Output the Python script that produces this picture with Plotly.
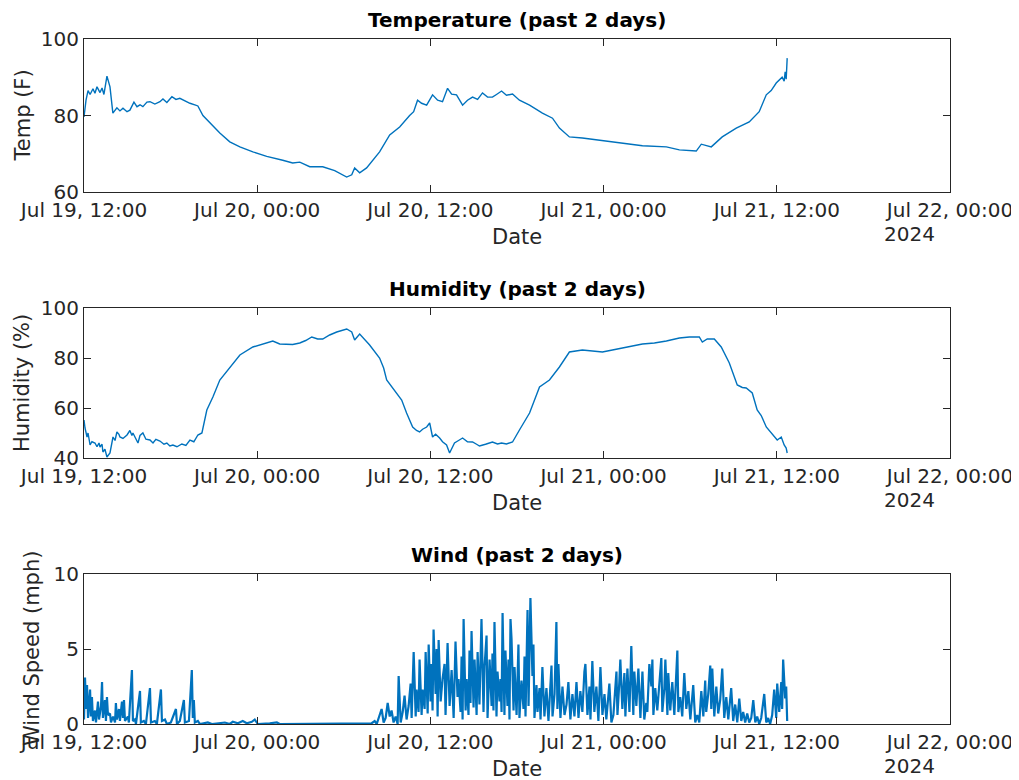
import pandas as pd
import plotly.graph_objects as go

# ---------------- data ----------------
start_time = "2024-07-19 12:00"
axis_end = "2024-07-22 00:00"

tick_times = ["2024-07-19 12:00", "2024-07-20 00:00", "2024-07-20 12:00",
              "2024-07-21 00:00", "2024-07-21 12:00", "2024-07-22 00:00"]
tick_labels = ["Jul 19, 12:00", "Jul 20, 00:00", "Jul 20, 12:00",
               "Jul 21, 00:00", "Jul 21, 12:00", "Jul 22, 00:00"]
year_label = "2024"

# temperature: hours after start, degrees F
temp_hours = [0.00, 0.14, 0.28, 0.42, 0.62, 0.76, 0.90, 1.11, 1.25, 1.38, 1.59, 1.80, 2.00,
              2.28, 2.49, 2.70, 2.98, 3.18, 3.46, 3.67, 3.88, 4.08, 4.36, 4.57, 4.91, 5.26,
              5.47, 5.74, 6.09, 6.37, 6.64, 6.99, 7.34, 7.68, 7.89, 8.24, 8.72, 9.41, 10.1,
              10.8, 11.7, 12.66, 13.77, 14.46, 14.95, 15.64, 16.54, 17.37, 18.2, 18.55, 18.75,
              19.1, 19.58, 20.48, 21.18, 21.87, 22.56, 22.84, 23.11, 23.39, 23.74, 24.15, 24.5,
              24.84, 25.19, 25.47, 25.81, 26.23, 26.57, 26.92, 27.27, 27.61, 27.96, 28.3, 28.58,
              28.93, 29.27, 29.69, 30.17, 30.87, 31.76, 32.46, 32.94, 33.63, 34.53, 35.92, 37.3,
              38.69, 40.35, 41.25, 42.42, 42.77, 43.46, 44.22, 45.19, 46.09, 46.78, 47.27, 47.61,
              47.96, 48.37, 48.51, 48.58, 48.65, 48.72]
temp_values = [79.6, 84.0, 86.5, 85.5, 87.0, 85.8, 87.5, 86.0, 87.2, 85.5, 90.3, 87.5, 80.6,
               82.0, 81.2, 81.9, 81.0, 81.4, 83.5, 82.3, 82.8, 82.3, 83.5, 83.6, 83.0, 83.6,
               84.3, 83.4, 84.9, 84.2, 84.5, 83.8, 83.2, 82.8, 82.5, 80.0, 78.0, 75.4, 73.1,
               71.8, 70.5, 69.3, 68.3, 67.6, 67.8, 66.6, 66.6, 65.6, 63.9, 64.5, 66.3,
               65.0, 66.3, 70.5, 74.9, 77.0, 80.0, 81.0, 84.0, 83.2, 82.7, 85.4, 84.0,
               83.6, 87.1, 85.6, 85.4, 82.7, 84.0, 84.8, 84.2, 85.9, 84.8, 84.8, 85.5,
               86.4, 85.3, 85.6, 84.0, 82.7, 80.6, 79.3, 76.7, 74.4, 74.1, 73.4, 72.8,
               72.1, 71.8, 71.0, 70.7, 72.5, 71.8, 74.4, 76.7, 78.3, 81.0, 85.4, 86.5,
               88.5, 90.0, 89.0, 91.4, 89.5, 95.0]

# humidity: hours after start, percent
hum_hours = [0.00, 0.07, 0.21, 0.28, 0.42, 0.55, 0.76, 0.90, 1.04, 1.11, 1.25, 1.31, 1.45, 1.59,
             1.80, 2.01, 2.15, 2.28, 2.42, 2.49, 2.70, 2.98, 3.18, 3.32, 3.39, 3.60, 3.74, 3.88,
             4.08, 4.29, 4.57, 4.78, 4.98, 5.26, 5.54, 5.74, 5.95, 6.16, 6.44, 6.78, 7.06, 7.34,
             7.61, 7.89, 8.17, 8.51, 8.93, 9.41, 10.1, 10.8, 11.7, 12.53, 13.08, 13.56, 14.05,
             14.46, 14.95, 15.36, 15.78, 16.19, 16.54, 17.02, 17.51, 18.2, 18.55, 18.75, 19.1,
             19.79, 20.48, 20.76, 20.97, 21.52, 22.01, 22.35, 22.77, 23.04, 23.25, 23.46, 23.74,
             23.95, 24.15, 24.36, 24.64, 24.84, 25.12, 25.33, 25.67, 25.95, 26.23, 26.57, 26.92,
             27.2, 27.4, 27.82, 28.3, 28.65, 28.93, 29.27, 29.69, 30.17, 30.87, 31.56, 32.25,
             32.94, 33.63, 34.53, 35.22, 35.92, 36.61, 37.3, 37.99, 38.69, 39.52, 40.35, 41.25,
             41.94, 42.63, 42.84, 43.18, 43.67, 44.15, 44.71, 45.26, 45.61, 45.88, 46.3, 46.64,
             46.92, 47.27, 47.47, 47.68, 48.03, 48.31, 48.51, 48.65, 48.72]
hum_values = [55.2, 52.0, 48.4, 50.0, 45.2, 46.5, 46.0, 44.5, 46.0, 44.4, 45.5, 42.4, 43.5, 40.4,
              42.0, 48.4, 47.0, 50.4, 49.5, 48.4, 47.8, 49.2, 51.0, 49.0, 50.0, 47.5, 46.0, 49.0,
              50.0, 47.5, 47.2, 46.0, 47.5, 46.8, 45.5, 46.0, 44.8, 45.2, 44.5, 45.6, 45.0, 47.2,
              46.5, 49.2, 50.0, 59.2, 64.4, 71.2, 76.4, 81.2, 84.4, 86.0, 86.8, 85.6, 85.6,
              85.4, 86.0, 87.0, 88.4, 87.6, 87.6, 89.2, 90.4, 91.6, 90.4, 87.2, 89.6,
              85.2, 80.0, 76.0, 71.2, 67.2, 63.2, 58.0, 52.4, 51.0, 50.4, 51.5, 52.4,
              54.0, 48.4, 49.5, 48.0, 46.5, 45.2, 42.0, 46.0, 47.0, 48.0, 46.5, 46.4,
              45.5, 44.8, 45.5, 46.4, 45.6, 46.0, 45.6, 46.4, 51.2, 58.0, 68.4, 71.2,
              76.4, 82.4, 83.2, 82.8, 82.4, 83.2, 84.0, 84.8, 85.6, 86.0, 86.8, 88.0,
              88.4, 88.4, 86.4, 87.6, 87.6, 84.4, 78.0, 69.2, 68.2, 68.0, 66.0, 59.2,
              57.0, 52.4, 51.0, 49.2, 47.2, 48.4, 45.2, 44.0, 42.0]

# wind: hours after start, mph
wind_hours = [0.00, 0.07, 0.14, 0.21, 0.28, 0.42, 0.48, 0.55, 0.62, 0.76, 0.83, 0.97, 1.04, 1.18,
              1.25, 1.31, 1.45, 1.52, 1.59, 1.66, 1.80, 1.87, 2.01, 2.15, 2.21, 2.28, 2.42, 2.49,
              2.63, 2.70, 2.77, 2.84, 3.04, 3.11, 3.32, 3.39, 3.53, 3.60, 3.88, 3.94, 4.15, 4.29,
              4.57, 4.64, 4.91, 5.05, 5.33, 5.40, 5.61, 5.74, 6.02, 6.37, 6.44, 6.64, 6.92, 6.99,
              7.27, 7.47, 7.54, 7.61, 7.68, 7.89, 8.03,
              8.58, 8.86, 9.76, 10.1, 10.31, 10.66, 11.0, 11.28, 11.63, 11.83, 12.04, 12.87, 13.36,
              13.56, 16.33, 19.1, 19.93, 20.14, 20.28,
              20.62, 20.76, 20.9, 21.04, 21.18, 21.31, 21.45, 21.59, 21.73, 21.8, 21.94, 22.08,
              22.21, 22.35, 22.49, 22.63, 22.7, 22.77, 22.84, 22.98, 23.04, 23.18, 23.25, 23.39,
              23.46, 23.6, 23.67, 23.81, 23.88, 24.01, 24.08, 24.15, 24.22, 24.36, 24.43, 24.5,
              24.57, 24.71, 24.84, 24.98, 25.05, 25.19, 25.33, 25.47, 25.61, 25.74, 25.88, 25.95,
              26.09, 26.16, 26.23, 26.3, 26.44, 26.51, 26.64, 26.71, 26.78, 26.85, 26.99, 27.06,
              27.2, 27.27, 27.4, 27.54, 27.68, 27.75, 27.89, 27.96, 28.1, 28.24, 28.3, 28.37,
              28.44, 28.58, 28.65, 28.79, 28.86, 28.93, 29.0, 29.13, 29.2, 29.34, 29.41, 29.48,
              29.55, 29.62, 29.76, 29.83, 29.97, 30.1, 30.17, 30.31, 30.45, 30.52, 30.59, 30.73,
              30.8, 30.93, 31.07, 31.14, 31.21, 31.35, 31.42, 31.56, 31.63, 31.76, 31.9, 32.04,
              32.18, 32.39, 32.46, 32.6, 32.73, 32.8, 32.87, 33.01, 33.15, 33.29, 33.43, 33.56,
              33.7, 33.84, 33.98, 34.12, 34.26, 34.39, 34.53, 34.67, 34.74, 34.88, 35.02, 35.09,
              35.22, 35.36, 35.5, 35.64, 35.78, 35.92, 36.06, 36.19, 36.4, 36.54, 36.68, 36.89,
              36.96, 37.09, 37.16, 37.3, 37.44, 37.51, 37.65, 37.79, 37.92, 38.06, 38.13, 38.27,
              38.41, 38.55, 38.69, 38.82, 38.96, 39.03, 39.17, 39.31, 39.38, 39.45, 39.58, 39.72,
              39.86, 40.0, 40.07, 40.21, 40.28, 40.42, 40.48, 40.62, 40.76, 40.9, 41.11, 41.18,
              41.31, 41.45, 41.59, 41.73, 41.87, 42.01, 42.21, 42.35, 42.49, 42.63, 42.77, 42.91,
              43.04, 43.11, 43.25, 43.39, 43.46, 43.53, 43.67, 43.81, 43.94, 44.08, 44.22, 44.36,
              44.5, 44.64, 44.84, 44.98, 45.12, 45.26, 45.4, 45.54, 45.67, 45.81, 45.95, 46.09,
              46.23, 46.37, 46.51, 46.64, 46.78, 46.92, 47.13, 47.27, 47.4, 47.54, 47.68, 47.82,
              47.96, 48.03, 48.17, 48.31, 48.37, 48.44, 48.58, 48.65, 48.72]
wind_values = [0.3, 3.1, 1.0, 2.6, 0.4, 2.3, 0.5, 1.8, 0.2, 0.9, 0.1, 1.5, 0.3, 1.2,
               2.8, 0.4, 1.6, 0.2, 1.8, 0.6, 0.7, 0.1, 0.5, 0.1, 1.4, 0.3, 1.0, 0.2,
               1.5, 0.4, 1.6, 0.2, 0.5, 0.1, 3.6, 0.2, 0.3, 0.0, 2.2, 0.1, 0.2, 0.0,
               2.4, 0.1, 0.2, 0.0, 2.3, 0.2, 0.3, 0.0, 0.1, 1.0, 0.0, 0.2, 1.6, 0.1,
               0.2, 3.6, 0.4, 1.6, 0.1, 0.2, 0.0,
               0.1, 0.0, 0.1, 0.0, 0.15, 0.05, 0.2, 0.05, 0.15, 0.3, 0.0, 0.05, 0.1,
               0.0, 0.0, 0.0, 0.05, 0.2, 0.0,
               1.0, 0.1, 0.4, 1.4, 0.5, 0.9, 0.1, 0.5, 0.0, 3.2, 0.1, 0.8,
               1.9, 0.3, 1.2, 2.7, 0.4, 3.2, 4.8, 0.5, 2.3, 0.8, 4.3, 0.6,
               2.3, 1.0, 4.8, 0.7, 5.3, 1.5, 4.0, 0.9, 6.3, 2.0, 5.0, 0.5,
               5.6, 1.5, 3.0, 4.0, 0.6, 5.4, 1.2, 3.6, 0.4, 5.5, 1.8, 3.0,
               0.8, 4.5, 0.3, 7.0, 0.9, 3.0, 0.6, 4.9, 1.4, 6.2, 1.1, 4.3,
               0.6, 4.8, 1.3, 7.0, 0.8, 3.8, 5.9, 0.4, 4.3, 1.2, 4.7, 0.9,
               6.8, 0.5, 3.5, 1.5, 3.0, 0.8, 7.4, 0.6, 4.9, 1.2, 4.3, 0.3,
               7.0, 5.7, 0.9, 3.8, 0.6, 5.3, 0.4, 2.9, 1.0, 4.5, 0.5, 7.6,
               1.2, 8.4, 3.2, 5.3, 0.4, 2.6, 0.8, 2.4, 0.3, 3.8, 0.5, 2.4,
               0.2, 3.9, 0.5, 2.0, 6.8, 1.0, 4.0, 0.4, 2.5, 0.6, 1.3, 2.8,
               0.3, 2.0, 0.5, 2.8, 0.4, 2.2, 0.8, 3.5, 4.0, 0.6, 2.5, 0.3,
               4.2, 0.8, 2.5, 0.2, 3.8, 0.6, 2.0, 0.3, 2.7, 0.1, 0.6, 3.5,
               0.6, 2.8, 4.3, 1.0, 3.4, 0.5, 3.7, 0.8, 5.2, 0.6, 3.5, 1.2,
               3.7, 0.4, 3.5, 0.3, 1.4, 0.8, 4.0, 2.5, 4.3, 0.6, 2.4, 0.9,
               3.0, 4.4, 0.8, 2.4, 4.3, 0.6, 3.4, 0.9, 2.8, 0.6, 4.9, 0.8,
               1.8, 0.5, 3.4, 1.0, 2.2, 0.3, 2.6, 0.1, 0.6, 0.1, 2.2, 0.5,
               2.9, 0.8, 2.0, 3.9, 1.0, 3.7, 0.5, 2.5, 0.7, 1.6, 3.7, 0.4,
               1.8, 0.3, 2.4, 0.2, 1.3, 0.1, 1.7, 0.2, 0.8, 0.1, 0.7, 0.1,
               0.4, 1.6, 0.1, 0.5, 0.0, 0.4, 2.0, 0.1, 0.4, 0.0, 0.6, 2.3,
               0.4, 2.7, 0.8, 2.8, 1.0, 4.3, 1.7, 2.5, 0.2]

panel_titles = ["Temperature (past 2 days)", "Humidity (past 2 days)", "Wind (past 2 days)"]
y_titles = ["Temp (F)", "Humidity (%)", "Wind Speed (mph)"]
x_title = "Date"
y_ranges = [[60, 100], [40, 100], [0, 10]]
y_ticks = [[60, 80, 100], [40, 60, 80, 100], [0, 5, 10]]

# ---------------- figure ----------------
PAGE_OFF = 8                      # default body margin of the html page
W, H = 1019 - PAGE_OFF, 780 - PAGE_OFF
FONT = "DejaVu Sans"
TXT = "#262626"
LINE = "#0072BD"

t0 = pd.Timestamp(start_time)
def to_time(hours):
    return t0 + pd.to_timedelta(pd.Series(hours), unit="h")

series = [(temp_hours, temp_values), (hum_hours, hum_values), (wind_hours, wind_values)]
line_widths = [1.4, 1.4, 2.2]

# panel boxes in window pixels: (top, bottom) and x extent
left_px, right_px = 84, 950
panels_px = [(39, 192), (308, 458), (574, 724)]

fig = go.Figure()
layout = dict(
    width=W, height=H,
    margin=dict(l=0, r=0, t=0, b=0, autoexpand=False),
    paper_bgcolor="white", plot_bgcolor="white",
    showlegend=False,
    font=dict(family=FONT, color=TXT, size=20),
)
annotations = []

def px_x(p):
    return (p - PAGE_OFF) / W

def px_y(p):
    return 1 - (p - PAGE_OFF) / H

for i, ((hrs, vals), (top, bot)) in enumerate(zip(series, panels_px)):
    n = "" if i == 0 else str(i + 1)
    fig.add_trace(go.Scatter(
        x=to_time(hrs), y=vals, mode="lines",
        line=dict(color=LINE, width=line_widths[i]),
        xaxis="x" + n, yaxis="y" + n, hoverinfo="skip",
    ))
    layout["xaxis" + n] = dict(
        domain=[px_x(left_px), px_x(right_px)],
        anchor="y" + n, automargin=False,
        range=[start_time, axis_end],
        tickvals=tick_times, ticktext=tick_labels,
        ticks="inside", ticklen=7, tickwidth=1, tickcolor=TXT,
        showline=True, linecolor=TXT, linewidth=1, mirror="ticks",
        showgrid=False, zeroline=False,
        tickfont=dict(family=FONT, size=20, color=TXT),
    )
    layout["yaxis" + n] = dict(
        domain=[px_y(bot), px_y(top)],
        anchor="x" + n, automargin=False,
        range=y_ranges[i], tickvals=y_ticks[i],
        ticks="inside", ticklen=7, tickwidth=1, tickcolor=TXT,
        showline=True, linecolor=TXT, linewidth=1, mirror="ticks",
        showgrid=False, zeroline=False,
        tickfont=dict(family=FONT, size=20, color=TXT),
    )
    # panel title
    annotations.append(dict(
        text="<b>" + panel_titles[i] + "</b>", xref="paper", yref="paper",
        x=px_x((left_px + right_px) / 2), y=px_y(top - 19),
        xanchor="center", yanchor="middle", showarrow=False,
        font=dict(family=FONT, size=20, color="#000000"),
    ))
    # x title
    annotations.append(dict(
        text=x_title, xref="paper", yref="paper",
        x=px_x((left_px + right_px) / 2), y=px_y(bot + 45),
        xanchor="center", yanchor="middle", showarrow=False,
        font=dict(family=FONT, size=21, color=TXT),
    ))
    # year label under last tick
    annotations.append(dict(
        text=year_label, xref="paper", yref="paper",
        x=px_x(882), y=px_y(bot + 42),
        xanchor="left", yanchor="middle", showarrow=False,
        font=dict(family=FONT, size=20, color=TXT),
    ))
    # y title
    y_center_x = 22 if i < 2 else 32
    annotations.append(dict(
        text=y_titles[i], xref="paper", yref="paper",
        x=px_x(y_center_x), y=px_y((top + bot) / 2),
        xanchor="center", yanchor="middle", showarrow=False, textangle=-90,
        font=dict(family=FONT, size=21, color=TXT),
    ))

layout["annotations"] = annotations
fig.update_layout(**layout)
fig.write_html("out.html")
